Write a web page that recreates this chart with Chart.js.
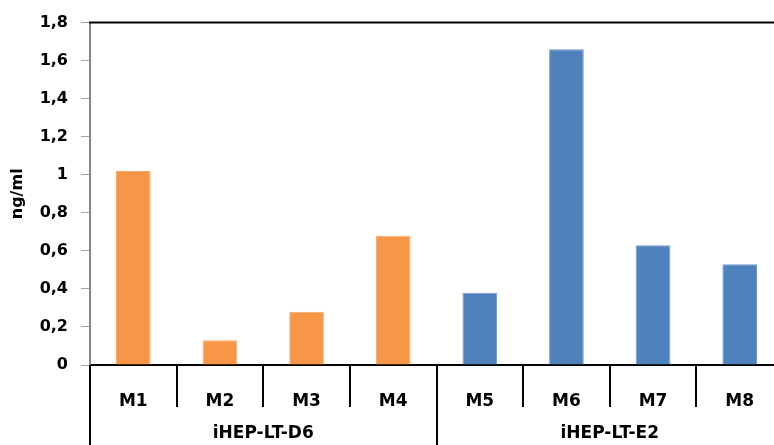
<!DOCTYPE html>
<html>
<head>
<meta charset="utf-8">
<script src="https://cdn.jsdelivr.net/npm/chart.js@4.4.1/dist/chart.umd.min.js"></script>
<style>
  html, body { margin: 0; padding: 0; background: #fff; overflow: hidden; }
  #wrap { width: 774px; height: 445px; overflow: hidden; }
  canvas { display: block; }
</style>
</head>
<body>
<div id="wrap"><canvas id="chart" width="784" height="445"></canvas></div>
<script>
// Samples and measured concentrations (ng/ml)
const categories = ['M1', 'M2', 'M3', 'M4', 'M5', 'M6', 'M7', 'M8'];
const values = [1.02, 0.13, 0.28, 0.68, 0.38, 1.66, 0.63, 0.53];

// Cell-line groups spanning the samples
const groupLabels = ['iHEP-LT-D6', 'iHEP-LT-E2'];
const groupSizes = [4, 4];
const groupColors = ['#F79646', '#4F81BD'];
const groupEdges = ['#F8A86C', '#6F96C8'];

// Y axis range
const yMin = 0;
const yMax = 1.8;
const yStep = 0.2;

const FONT = 'DejaVu Sans';

const barColors = [];
const barEdges = [];
groupSizes.forEach((n, g) => {
  for (let i = 0; i < n; i++) { barColors.push(groupColors[g]); barEdges.push(groupEdges[g]); }
});

const fmt = v => String(Math.round(v * 10) / 10).replace('.', ',');

// Frame line on top, category separators and group labels under the axis
const groupAxis = {
  id: 'groupAxis',
  afterDraw(chart) {
    const { ctx, chartArea } = chart;
    const x = chart.scales.x;
    const catW = (chartArea.right - chartArea.left) / categories.length;
    ctx.save();
    ctx.strokeStyle = '#000';
    ctx.lineWidth = 2;
    ctx.beginPath();
    ctx.moveTo(chartArea.left - 1, chartArea.top);
    ctx.lineTo(chartArea.right, chartArea.top);
    ctx.stroke();

    const groupStarts = [0];
    groupSizes.forEach(n => groupStarts.push(groupStarts[groupStarts.length - 1] + n));
    for (let i = 0; i <= categories.length; i++) {
      const px = Math.round(x.getPixelForValue(Math.min(i, categories.length - 1)) + (i === categories.length ? catW / 2 : -catW / 2));
      const isGroup = groupStarts.includes(i);
      ctx.beginPath();
      ctx.moveTo(px, chartArea.bottom);
      ctx.lineTo(px, isGroup ? chart.height : chartArea.bottom + 42);
      ctx.stroke();
    }

    ctx.fillStyle = '#000';
    ctx.font = 'bold 17px "' + FONT + '"';
    ctx.textAlign = 'center';
    ctx.textBaseline = 'middle';
    groupLabels.forEach((lab, g) => {
      const a = x.getPixelForValue(groupStarts[g]) - catW / 2;
      const b = x.getPixelForValue(groupStarts[g + 1] - 1) + catW / 2;
      ctx.fillText(lab, (a + b) / 2, chartArea.bottom + 69);
    });
    ctx.restore();
  }
};

new Chart(document.getElementById('chart'), {
  type: 'bar',
  data: {
    labels: categories,
    datasets: [{
      data: values,
      backgroundColor: barColors,
      borderColor: barEdges,
      borderWidth: 1,
      borderSkipped: 'bottom',
      categoryPercentage: 1,
      barPercentage: 0.4
    }]
  },
  options: {
    responsive: false,
    animation: false,
    devicePixelRatio: 1,
    layout: { padding: { top: 22, right: 1, left: 0, bottom: 0 } },
    plugins: {
      legend: { display: false },
      tooltip: { enabled: false }
    },
    scales: {
      x: {
        type: 'category',
        offset: true,
        grid: { display: false },
        border: { display: true, color: '#000', width: 2 },
        ticks: {
          color: '#000',
          font: { family: FONT, size: 17, weight: 'bold' },
          padding: 18,
          maxRotation: 0,
          autoSkip: false
        },
        afterFit(scale) { scale.height = 80; }
      },
      y: {
        min: yMin,
        max: yMax,
        grid: {
          drawOnChartArea: false,
          drawTicks: true,
          tickLength: 9,
          color: '#a6a6a6',
          lineWidth: 1
        },
        border: { display: true, color: '#868686', width: 2 },
        ticks: {
          stepSize: yStep,
          color: '#000',
          padding: 13,
          font: { family: FONT, size: 16, weight: 'bold' },
          callback: v => fmt(v)
        },
        title: {
          display: true,
          text: 'ng/ml',
          color: '#000',
          font: { family: FONT, size: 16, weight: 'bold' },
          padding: { top: 8, bottom: 0 }
        },
        afterFit(scale) { scale.width = 90; }
      }
    }
  },
  plugins: [groupAxis]
});
</script>
</body>
</html>
